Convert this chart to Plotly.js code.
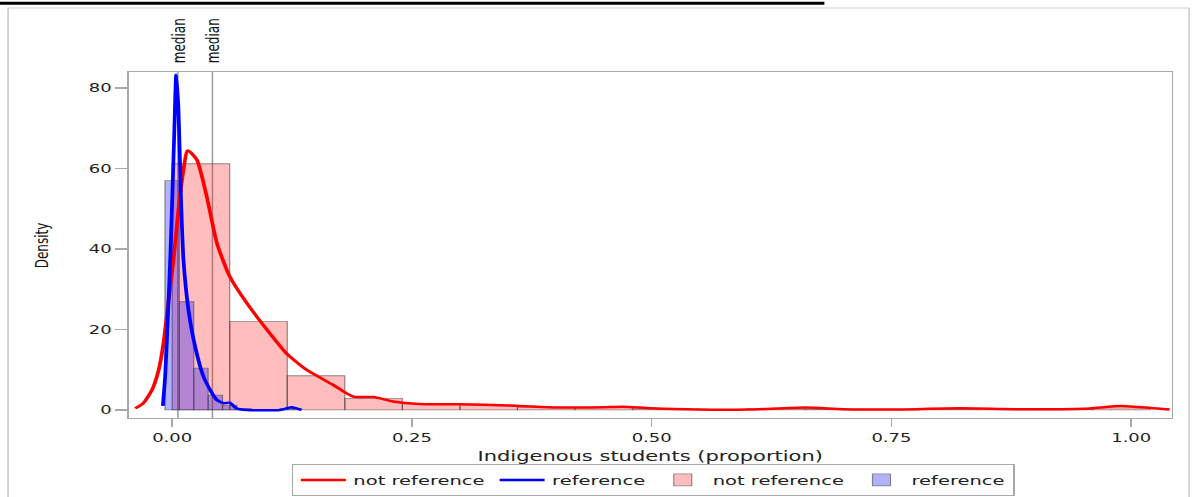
<!DOCTYPE html>
<html>
<head>
<meta charset="utf-8">
<script src="https://cdn.plot.ly/plotly-3.0.1.min.js"></script>
<style>
  body { margin: 0; background: #fff; overflow: hidden; }
  /* the source picture is stretched sideways, so draw narrower and stretch */
  #chart { width: 796px; height: 497px; transform: scaleX(1.5); transform-origin: 0 0; }
</style>
</head>
<body>
<div id="chart"></div>
<script>
// histogram, not reference (percent per 0.06 bin)
var notRefBinCenters = [0.03, 0.09, 0.15, 0.21, 0.27, 0.33, 0.39, 0.45, 0.51, 0.57, 0.63, 0.69, 0.75, 0.81, 0.87, 0.93, 0.99];
var notRefBinPct = [61.2, 22.0, 8.5, 2.9, 1.6, 1.2, 0.6, 0.6, 0.3, 0.1, 0.3, 0.2, 0.1, 0.2, 0.1, 0.2, 0.5];

// histogram, reference (percent per 0.015 bin)
var refBinCenters = [0.0, 0.015, 0.03, 0.045, 0.06, 0.075, 0.12];
var refBinPct = [57.0, 26.9, 10.4, 3.7, 1.2, 0.4, 0.4];

// kernel density, not reference
var notRefKdeX = [-0.0385, -0.030, -0.021, -0.014, -0.009, -0.004, 0.0014, 0.0066, 0.0118, 0.0163, 0.0257, 0.036, 0.0466, 0.060, 0.078, 0.099, 0.119, 0.140, 0.168, 0.189, 0.210, 0.2305, 0.258, 0.30, 0.35, 0.40, 0.45, 0.47, 0.50, 0.55, 0.60, 0.66, 0.70, 0.75, 0.82, 0.88, 0.95, 0.99, 1.02, 1.04];
var notRefKdeY = [0.4, 1.7, 5.0, 10.0, 16.7, 26.6, 37.3, 49.8, 59.7, 64.5, 62.2, 53.1, 41.5, 33.2, 26.5, 19.9, 14.1, 10.0, 6.2, 3.3, 3.2, 2.1, 1.5, 1.4, 1.1, 0.6, 0.7, 0.8, 0.4, 0.1, 0.1, 0.6, 0.2, 0.1, 0.4, 0.2, 0.3, 1.0, 0.5, 0.1];

// kernel density, reference
var refKdeX = [-0.0097, -0.0073, -0.0049, -0.002, 0.0003, 0.0024, 0.0042, 0.0066, 0.009, 0.0118, 0.017, 0.024, 0.0326, 0.0396, 0.0465, 0.0535, 0.060, 0.067, 0.078, 0.1125, 0.1245, 0.135];
var refKdeY = [1.0, 8.3, 20.7, 37.3, 53.9, 70.5, 83.3, 74.6, 53.9, 37.3, 24.9, 15.7, 8.3, 5.0, 2.5, 1.7, 1.8, 0.4, 0.0, 0.0, 0.7, 0.0];

var medians = [0.006, 0.042];

var axisGray = '#a8a8a8';
var tickFont = {family: 'DejaVu Sans', size: 12, color: '#222'};
var sideFont = {family: 'DejaVu Sans', size: 12, color: '#111'};

var traces = [
  {
    type: 'scatter', mode: 'lines', name: 'not reference',
    x: notRefKdeX, y: notRefKdeY,
    line: {color: 'rgb(255,0,0)', width: 2.5, shape: 'spline', smoothing: 0.6}
  },
  {
    type: 'scatter', mode: 'lines', name: 'reference',
    x: refKdeX, y: refKdeY,
    line: {color: 'rgb(0,0,255)', width: 2.5, shape: 'spline', smoothing: 0.6}
  },
  {
    type: 'bar', name: 'not reference',
    x: notRefBinCenters, y: notRefBinPct, width: 0.06,
    marker: {color: 'rgba(255,0,0,0.26)', line: {color: 'rgba(70,70,70,0.6)', width: 0.8}}
  },
  {
    type: 'bar', name: 'reference',
    x: refBinCenters, y: refBinPct, width: 0.015,
    marker: {color: 'rgba(0,0,255,0.3)', line: {color: 'rgba(70,70,70,0.6)', width: 0.8}}
  }
];

var shapes = medians.map(function (m) {
  return {type: 'line', xref: 'x', yref: 'paper', x0: m, x1: m, y0: 0, y1: 1,
          line: {color: '#9a9a9a', width: 1}, layer: 'below'};
});
// outer frame and heading rule
shapes.push({type: 'rect', xref: 'paper', yref: 'paper', x0: -0.116, x1: 1.017, y0: -0.4, y1: 1.185,
             line: {color: '#d0d0d0', width: 1.2}, layer: 'below'});
shapes.push({type: 'line', xref: 'paper', yref: 'paper', x0: -0.13, x1: 0.667, y0: 1.199, y1: 1.199,
             line: {color: '#000', width: 3}});

var annotations = medians.map(function (m) {
  return {xref: 'x', yref: 'paper', x: m, y: 1.02, yanchor: 'bottom', xanchor: 'center',
          text: 'median', textangle: -90, showarrow: false, font: sideFont};
});
annotations.push({xref: 'paper', yref: 'paper', x: -0.083, y: 0.5, xanchor: 'center', yanchor: 'middle',
                  text: 'Density', textangle: -90, showarrow: false, font: sideFont});

var layout = {
  width: 796, height: 497,
  margin: {l: 86, r: 14.7, t: 72, b: 79},
  paper_bgcolor: '#fff', plot_bgcolor: '#fff',
  barmode: 'overlay', bargap: 0,
  showlegend: true,
  legend: {
    orientation: 'h', xref: 'paper', yref: 'container',
    x: 0.503, xanchor: 'center', y: 0.002, yanchor: 'bottom',
    bordercolor: '#a8a8a8', borderwidth: 1, traceorder: 'normal',
    font: {family: 'DejaVu Sans', size: 13, color: '#222'}
  },
  xaxis: {
    range: [-0.045, 1.042], tickvals: [0, 0.25, 0.5, 0.75, 1], tickformat: '.2f',
    showline: true, mirror: true, linecolor: axisGray, linewidth: 1.2,
    ticks: 'outside', ticklen: 8, tickcolor: axisGray, tickwidth: 1,
    showgrid: false, zeroline: false, tickfont: tickFont,
    title: {text: 'Indigenous students (proportion)', font: {family: 'DejaVu Sans', size: 14, color: '#222'}, standoff: 10}
  },
  yaxis: {
    range: [-2, 84], tickvals: [0, 20, 40, 60, 80],
    showline: true, mirror: true, linecolor: axisGray, linewidth: 1.2,
    ticks: 'outside', ticklen: 8, tickcolor: axisGray, tickwidth: 1.2,
    showgrid: false, zeroline: false, tickfont: tickFont
  },
  shapes: shapes,
  annotations: annotations
};

Plotly.newPlot('chart', traces, layout, {displayModeBar: false, staticPlot: true});
</script>
</body>
</html>
